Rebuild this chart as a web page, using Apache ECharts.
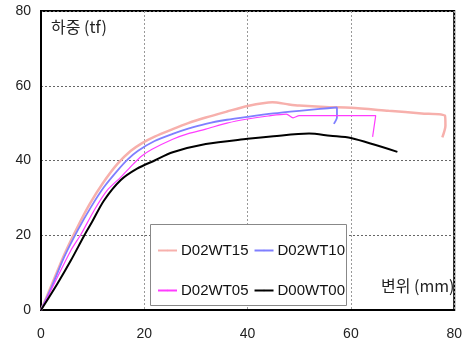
<!DOCTYPE html>
<html>
<head>
<meta charset="utf-8">
<script src="https://cdn.jsdelivr.net/npm/echarts@6/dist/echarts.min.js"></script>
<style>
  html, body { margin: 0; padding: 0; background: #fff; }
  #chart { width: 465px; height: 344px; }
</style>
</head>
<body>
<div id="chart"></div>
<script>
// displacement (mm), load (tf) pairs
const d02wt15 = [[0,0],[2,6.5],[4.5,14.8],[7,22],[9.5,28.5],[12,34],[14.8,39.1],[17.4,42.6],[19.5,44.6],[22,46.4],[25.5,48.4],[28.5,50],[31.9,51.5],[36,53.1],[40,54.6],[44.8,55.6],[48,55],[50,54.7],[55,54.3],[60,54.1],[67.3,53.3],[73.7,52.6],[78.2,52],[78.3,49.3],[77.7,46.2]];
const d02wt10 = [[0,0],[2,6],[4.5,14.2],[7.1,21.3],[9.7,27.6],[12.2,32.9],[14.8,37.3],[16.8,40.3],[18.8,42.6],[22,45.2],[25.5,47.1],[28.5,48.5],[31.9,49.8],[36,50.9],[40,51.7],[45,52.6],[50,53.3],[54,53.8],[57.3,54.2],[57.3,51.6],[56.7,49.8]];
const d02wt05 = [[0,0],[2,5.5],[5.8,16],[7.8,20.4],[10.3,26.7],[12.8,32],[15.4,35.5],[17.9,39.1],[19.5,41.2],[21.5,43],[25.5,45.7],[28.5,47.2],[31.9,48.4],[36,50],[40,51.1],[44,51.9],[47.5,52.4],[48.8,51.4],[50,52],[55,52],[59.5,52],[64.8,52],[64.2,46.3]];
const d00wt00 = [[0,0],[3.2,7.1],[5.8,13.3],[8.4,20],[9.9,23.6],[12.2,29.3],[15.4,34.7],[18.6,37.8],[22,40],[25.5,42.2],[31.9,44.4],[40,45.8],[45,46.5],[51.9,47.2],[56,46.6],[60,46],[69,42.3]];

const seriesNames = ["D02WT15", "D02WT10", "D02WT05", "D00WT00"];
const axisTicks = [0, 20, 40, 60, 80];

const chart = echarts.init(document.getElementById("chart"));

function lineSeries(name, data, color, width, smooth) {
  return {
    name: name,
    type: "line",
    data: data,
    showSymbol: false,
    symbol: "none",
    smooth: smooth,
    animation: false,
    lineStyle: { color: color, width: width },
    itemStyle: { color: color },
  };
}

const font = "'Liberation Sans', Arial, sans-serif";
const legendText = { fontSize: 15, fontFamily: font, color: "#111", padding: [0, 0, 0, -1] };

chart.setOption({
  animation: false,
  grid: {
    left: 41,
    right: 10,
    top: 11,
    bottom: 34,
    show: true,
    borderColor: "#000",
    borderWidth: 2,
    backgroundColor: "#fff",
  },
  xAxis: {
    type: "value",
    min: axisTicks[0],
    max: axisTicks[axisTicks.length - 1],
    interval: 20,
    axisLine: { lineStyle: { color: "#000", width: 2 } },
    axisTick: { show: false },
    axisLabel: { color: "#222", fontSize: 14, fontFamily: font, margin: 17 },
    splitLine: { lineStyle: { color: "#999", type: [2, 2], width: 1 } },
  },
  yAxis: {
    type: "value",
    min: axisTicks[0],
    max: axisTicks[axisTicks.length - 1],
    interval: 20,
    axisLine: { show: true, lineStyle: { color: "#000", width: 2 } },
    axisTick: { show: false },
    axisLabel: { color: "#222", fontSize: 14, fontFamily: font, margin: 10 },
    splitLine: { lineStyle: { color: "#666", type: [2, 2], width: 1 } },
  },
  graphic: [
    {
      type: "rect",
      left: 150,
      top: 224,
      shape: { width: 196, height: 81 },
      style: { fill: "#fff", stroke: "#888", lineWidth: 1 },
      z: 10,
    },
    {
      type: "text",
      left: 51,
      top: 19,
      style: { text: "하중 (tf)", fill: "#222", font: "16px 'Noto Sans CJK KR', sans-serif" },
      z: 10,
    },
    {
      type: "text",
      left: 381,
      top: 278,
      style: { text: "변위 (mm)", fill: "#222", font: "16px 'Noto Sans CJK KR', sans-serif" },
      z: 10,
    },
  ],
  legend: [
    {
      data: [seriesNames[0], seriesNames[1]],
      left: 152,
      top: 238,
      itemWidth: 19,
      itemHeight: 2,
      itemGap: 5,
      textStyle: legendText,
      z: 20,
    },
    {
      data: [seriesNames[2], seriesNames[3]],
      left: 152,
      top: 278,
      itemWidth: 19,
      itemHeight: 2,
      itemGap: 5,
      textStyle: legendText,
      z: 20,
    },
  ],
  series: [
    lineSeries(seriesNames[0], d02wt15, "#f7b0ac", 2.5, 0.25),
    lineSeries(seriesNames[1], d02wt10, "#7f7fff", 1.8, 0.25),
    lineSeries(seriesNames[2], d02wt05, "#ff3cff", 1.2, 0.25),
    lineSeries(seriesNames[3], d00wt00, "#000", 2, 0.3),
  ],
});
</script>
</body>
</html>
